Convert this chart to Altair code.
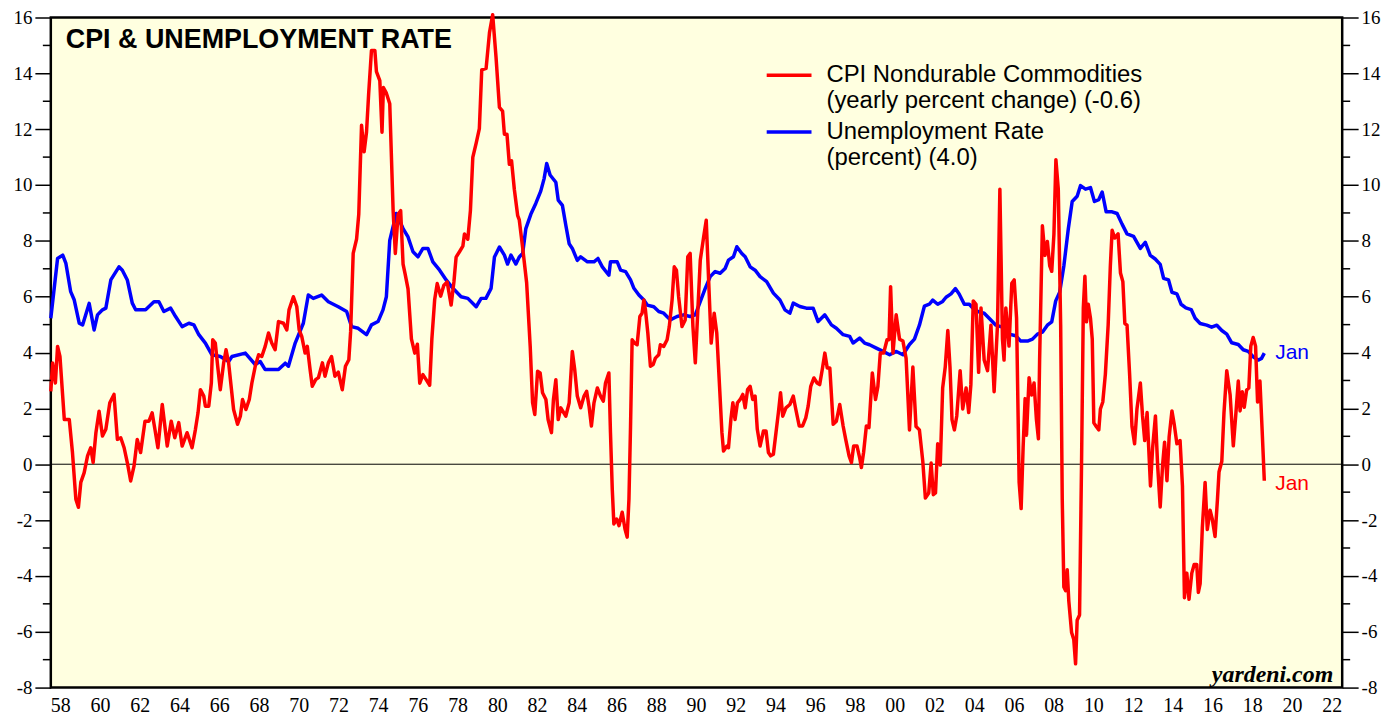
import altair as alt
import pandas as pd

# ---------------- data ----------------
cpi_years = [
    1958.0, 1958.09, 1958.23, 1958.34, 1958.46, 1958.68, 1958.93, 1959.09, 1959.26, 1959.39,
    1959.51, 1959.68, 1959.85, 1960.01, 1960.13, 1960.27, 1960.43, 1960.6, 1960.77, 1960.97,
    1961.18, 1961.35, 1961.52, 1961.69, 1961.85, 1962.02, 1962.19, 1962.35, 1962.52, 1962.74,
    1962.94, 1963.1, 1963.24, 1963.39, 1963.61, 1963.86, 1964.06, 1964.24, 1964.44, 1964.61,
    1964.86, 1965.11, 1965.28, 1965.41, 1965.53, 1965.7, 1965.78, 1965.95, 1966.08, 1966.15,
    1966.28, 1966.4, 1966.53, 1966.7, 1966.82, 1966.95, 1967.2, 1967.4, 1967.54, 1967.65,
    1967.82, 1967.99, 1968.12, 1968.29, 1968.46, 1968.62, 1968.79, 1968.96, 1969.12, 1969.29,
    1969.46, 1969.71, 1969.88, 1969.99, 1970.21, 1970.38, 1970.5, 1970.63, 1970.8, 1970.91,
    1971.05, 1971.16, 1971.33, 1971.47, 1971.67, 1971.8, 1971.97, 1972.13, 1972.3, 1972.47,
    1972.67, 1972.83, 1973.0, 1973.09, 1973.22, 1973.39, 1973.5, 1973.64, 1973.77, 1973.89,
    1974.0, 1974.14, 1974.31, 1974.39, 1974.56, 1974.67, 1974.74, 1974.89, 1975.06, 1975.23,
    1975.34, 1975.48, 1975.61, 1975.73, 1975.84, 1975.98, 1976.15, 1976.32, 1976.45, 1976.57,
    1976.73, 1976.9, 1977.07, 1977.18, 1977.32, 1977.45, 1977.62, 1977.78, 1977.95, 1978.15,
    1978.29, 1978.4, 1978.57, 1978.74, 1978.82, 1978.99, 1979.12, 1979.24, 1979.41, 1979.57,
    1979.69, 1979.91, 1980.08, 1980.24, 1980.41, 1980.58, 1980.74, 1980.83, 1980.96, 1981.08,
    1981.19, 1981.33, 1981.5, 1981.58, 1981.75, 1981.95, 1982.13, 1982.25, 1982.36, 1982.5,
    1982.63, 1982.75, 1982.92, 1983.03, 1983.2, 1983.3, 1983.42, 1983.54, 1983.67, 1983.92,
    1984.09, 1984.25, 1984.37, 1984.5, 1984.67, 1984.84, 1984.97, 1985.09, 1985.21, 1985.34,
    1985.51, 1985.67, 1985.81, 1985.92, 1986.09, 1986.17, 1986.26, 1986.34, 1986.48, 1986.6,
    1986.76, 1986.9, 1987.01, 1987.1, 1987.18, 1987.26, 1987.38, 1987.51, 1987.65, 1987.76,
    1987.85, 1987.93, 1988.05, 1988.18, 1988.32, 1988.43, 1988.6, 1988.68, 1988.85, 1989.02,
    1989.13, 1989.27, 1989.38, 1989.49, 1989.6, 1989.77, 1989.93, 1990.06, 1990.18, 1990.32,
    1990.44, 1990.56, 1990.69, 1990.86, 1990.99, 1991.11, 1991.24, 1991.39, 1991.52, 1991.66,
    1991.78, 1991.86, 1992.03, 1992.11, 1992.23, 1992.33, 1992.44, 1992.56, 1992.7, 1992.83,
    1992.95, 1993.07, 1993.2, 1993.33, 1993.45, 1993.56, 1993.7, 1993.87, 1994.0, 1994.12,
    1994.23, 1994.37, 1994.5, 1994.62, 1994.73, 1994.84, 1995.0, 1995.2, 1995.37, 1995.5,
    1995.67, 1995.84, 1996.0, 1996.12, 1996.25, 1996.41, 1996.57, 1996.7, 1996.83, 1996.96,
    1997.08, 1997.21, 1997.38, 1997.54, 1997.71, 1997.88, 1998.01, 1998.18, 1998.3, 1998.41,
    1998.58, 1998.71, 1998.8, 1998.91, 1999.05, 1999.18, 1999.35, 1999.51, 1999.63, 1999.75,
    1999.92, 2000.09, 2000.19, 2000.27, 2000.39, 2000.55, 2000.72, 2000.89, 2001.05, 2001.22,
    2001.39, 2001.55, 2001.72, 2001.89, 2002.02, 2002.19, 2002.31, 2002.42, 2002.53, 2002.64,
    2002.77, 2002.89, 2003.02, 2003.15, 2003.26, 2003.36, 2003.48, 2003.6, 2003.77, 2003.9,
    2004.07, 2004.2, 2004.31, 2004.43, 2004.57, 2004.7, 2004.82, 2004.98, 2005.15, 2005.32,
    2005.48, 2005.65, 2005.77, 2005.9, 2005.98, 2006.07, 2006.23, 2006.37, 2006.49, 2006.61,
    2006.74, 2006.84, 2006.94, 2007.04, 2007.11, 2007.24, 2007.37, 2007.49, 2007.61, 2007.71,
    2007.77, 2007.91, 2008.04, 2008.16, 2008.28, 2008.38, 2008.49, 2008.59, 2008.71, 2008.83,
    2008.91, 2008.99, 2009.08, 2009.16, 2009.24, 2009.38, 2009.49, 2009.58, 2009.66, 2009.78,
    2009.88, 2009.97, 2010.05, 2010.13, 2010.22, 2010.33, 2010.42, 2010.5, 2010.62, 2010.75,
    2010.83, 2010.95, 2011.08, 2011.22, 2011.33, 2011.42, 2011.55, 2011.72, 2011.84, 2011.96,
    2012.06, 2012.17, 2012.3, 2012.42, 2012.55, 2012.67, 2012.84, 2012.95, 2013.06, 2013.18,
    2013.26, 2013.35, 2013.46, 2013.6, 2013.71, 2013.84, 2013.96, 2014.06, 2014.18, 2014.29,
    2014.43, 2014.55, 2014.68, 2014.84, 2014.96, 2015.06, 2015.18, 2015.29, 2015.43, 2015.55,
    2015.68, 2015.76, 2015.85, 2015.96, 2016.1, 2016.21, 2016.35, 2016.46, 2016.6, 2016.72,
    2016.8, 2016.94, 2017.05, 2017.19, 2017.36, 2017.52, 2017.64, 2017.77, 2017.86, 2017.97,
    2018.07, 2018.19, 2018.3, 2018.4, 2018.52, 2018.64, 2018.74, 2018.86, 2018.97, 2019.08,
]
cpi_values = [
    2.61, 3.63, 2.91, 4.22, 3.86, 1.6, 1.6, 0.42, -1.25, -1.54,
    -0.65, -0.3, 0.3, 0.59, 0.06, 1.13, 1.9, 1.01, 1.25, 2.2,
    2.5, 0.89, 0.95, 0.59, 0.06, -0.6, -0.06, 0.89, 0.42, 1.54,
    1.54, 1.84, 1.25, 0.59, 2.14, 0.65, 1.54, 0.95, 1.49, 0.65,
    1.13, 0.59, 1.25, 1.84, 2.67, 2.44, 2.08, 2.08, 2.91, 4.46,
    4.34, 3.51, 2.67, 3.63, 4.1, 3.63, 1.96, 1.43, 1.72, 2.32,
    1.96, 2.32, 2.91, 3.51, 3.92, 3.86, 4.22, 4.7, 4.34, 4.1,
    5.11, 5.05, 4.81, 5.53, 6.0, 5.65, 4.81, 4.58, 3.98, 4.22,
    3.39, 2.79, 3.03, 3.1, 3.63, 3.15, 3.63, 3.86, 3.15, 3.3,
    2.67, 3.51, 3.74, 4.74, 7.55, 8.06, 8.95, 12.14, 11.19, 11.89,
    13.29, 14.82, 14.82, 14.06, 13.74, 11.89, 13.49, 13.29, 12.91, 9.08,
    7.55, 8.95, 9.08, 7.17, 6.79, 6.28, 4.49, 3.98, 4.3, 2.9,
    3.21, 3.02, 2.83, 4.49, 5.89, 6.47, 6.02, 6.4, 6.53, 5.7,
    6.53, 7.42, 7.61, 7.81, 8.25, 8.06, 9.08, 10.99, 11.5, 12.02,
    14.12, 14.18, 15.46, 16.1, 14.57, 12.78, 12.65, 11.82, 11.82, 10.74,
    10.87, 9.85, 8.9, 8.75, 7.75, 6.5, 4.22, 2.2, 1.78, 3.33,
    3.27, 2.56, 2.32, 1.6, 1.13, 2.32, 3.03, 1.6, 2.02, 1.72,
    2.2, 4.04, 3.39, 2.44, 2.02, 2.44, 2.61, 2.08, 1.37, 2.2,
    2.73, 2.44, 2.26, 2.91, 3.27, 1.13, -0.89, -2.14, -1.96, -2.2,
    -1.72, -2.32, -2.61, -1.25, 1.37, 4.46, 4.34, 4.28, 5.29, 5.41,
    5.88, 5.53, 4.7, 3.51, 3.57, 3.8, 3.92, 4.28, 4.22, 4.46,
    4.93, 5.88, 7.07, 6.95, 6.0, 4.93, 5.17, 7.43, 7.55, 4.93,
    3.63, 5.41, 7.31, 8.14, 8.74, 6.6, 4.34, 5.41, 4.7, 2.79,
    1.13, 0.47, 0.65, 0.59, 1.6, 2.2, 1.6, 2.2, 2.32, 2.5,
    2.02, 2.67, 2.79, 2.32, 2.44, 1.25, 0.65, 1.19, 1.19, 0.42,
    0.3, 0.36, 1.13, 1.84, 2.56, 1.72, 2.02, 2.14, 2.44, 1.96,
    1.37, 1.37, 1.66, 2.08, 2.79, 3.09, 2.91, 2.85, 3.39, 3.98,
    3.45, 3.45, 1.43, 1.54, 2.14, 1.37, 0.89, 0.3, 0.06, 0.65,
    0.65, 0.24, -0.12, 0.42, 1.37, 1.31, 3.27, 2.32, 2.79, 3.98,
    3.98, 4.46, 4.46, 6.36, 3.98, 5.35, 4.48, 4.41, 3.79, 1.23,
    3.48, 1.35, 1.23, 0.1, -1.21, -1.03, 0.04, -1.09, -1.03, 0.73,
    -0.03, 2.73, 3.48, 4.79, 3.48, 1.6, 1.23, 1.73, 3.35, 1.98,
    2.73, 1.85, 2.85, 5.85, 5.73, 3.29, 5.6, 3.73, 3.35, 4.98,
    2.6, 4.98, 9.85, 4.48, 3.73, 5.6, 4.23, 6.48, 6.6, 5.23,
    -0.65, -1.59, 0.6, 2.35, 1.04, 3.1, 2.48, 2.91, 1.6, 0.91,
    3.73, 8.54, 7.48, 7.98, 7.1, 6.91, 8.23, 10.91, 9.85, 4.98,
    -1.28, -4.4, -4.53, -3.78, -4.9, -6.03, -6.28, -7.15, -5.59, -5.4,
    -0.03, 5.6, 6.73, 5.1, 5.73, 5.23, 4.48, 1.48, 1.35, 1.23,
    1.98, 2.23, 3.23, 4.98, 7.1, 8.38, 8.1, 8.25, 6.85, 6.54,
    5.04, 4.98, 3.23, 1.35, 0.73, 1.98, 2.91, 1.73, 0.85, 1.85,
    0.6, -0.78, 0.6, 1.73, -0.03, -1.53, -0.03, 0.79, -0.59, 0.98,
    1.91, 1.41, 0.73, 0.85, -0.78, -4.78, -3.9, -4.84, -3.9, -3.59,
    -3.59, -4.59, -4.28, -2.28, -0.65, -2.34, -1.65, -1.96, -2.59, -1.28,
    -0.28, 0.1, 1.85, 3.35, 2.48, 0.66, 1.73, 2.98, 1.91, 2.6,
    2.04, 2.66, 2.73, 4.23, 4.54, 4.23, 2.23, 2.98, 1.23, -0.59,
]

unemp_years = [
    1958.0, 1958.34, 1958.6, 1958.76, 1959.0, 1959.18, 1959.43, 1959.6, 1959.93, 1960.18,
    1960.35, 1960.6, 1960.77, 1961.02, 1961.43, 1961.6, 1961.85, 1962.1, 1962.27, 1962.77,
    1963.19, 1963.44, 1963.69, 1964.03, 1964.28, 1964.61, 1964.95, 1965.2, 1965.45, 1965.78,
    1966.11, 1966.53, 1966.95, 1967.12, 1967.79, 1968.29, 1968.54, 1968.79, 1969.46, 1969.8,
    1969.96, 1970.3, 1970.71, 1970.96, 1971.21, 1971.63, 1971.97, 1972.47, 1972.89, 1973.14,
    1973.47, 1973.89, 1974.14, 1974.47, 1974.72, 1974.89, 1975.06, 1975.39, 1975.73, 1975.98,
    1976.23, 1976.48, 1976.73, 1976.98, 1977.23, 1977.57, 1977.9, 1978.24, 1978.65, 1978.99,
    1979.41, 1979.66, 1979.9, 1980.16, 1980.33, 1980.58, 1980.83, 1980.99, 1981.16, 1981.41,
    1981.58, 1981.75, 1981.91, 1982.16, 1982.41, 1982.66, 1982.83, 1982.96, 1983.13, 1983.42,
    1983.54, 1983.75, 1983.92, 1984.09, 1984.25, 1984.5, 1984.67, 1985.01, 1985.34, 1985.54,
    1985.76, 1986.09, 1986.17, 1986.51, 1986.68, 1986.93, 1987.18, 1987.35, 1987.6, 1987.85,
    1988.02, 1988.35, 1988.6, 1988.85, 1989.18, 1989.52, 1989.85, 1990.18, 1990.44, 1990.66,
    1990.94, 1991.19, 1991.44, 1991.69, 1991.94, 1992.11, 1992.36, 1992.53, 1992.78, 1992.95,
    1993.2, 1993.45, 1993.7, 1994.03, 1994.37, 1994.7, 1994.95, 1995.2, 1995.37, 1995.7,
    1996.03, 1996.37, 1996.62, 1996.96, 1997.29, 1997.54, 1997.88, 1998.21, 1998.38, 1998.71,
    1998.96, 1999.21, 1999.55, 1999.89, 2000.22, 2000.56, 2000.89, 2001.22, 2001.47, 2001.72,
    2001.97, 2002.22, 2002.39, 2002.64, 2002.89, 2003.06, 2003.31, 2003.53, 2003.72, 2003.98,
    2004.23, 2004.48, 2004.73, 2004.98, 2005.23, 2005.57, 2005.9, 2006.23, 2006.57, 2006.82,
    2007.16, 2007.41, 2007.66, 2007.91, 2008.16, 2008.38, 2008.58, 2008.78, 2008.99, 2009.21,
    2009.41, 2009.66, 2009.83, 2010.08, 2010.33, 2010.53, 2010.75, 2010.92, 2011.12, 2011.42,
    2011.67, 2011.92, 2012.17, 2012.5, 2012.84, 2013.09, 2013.34, 2013.59, 2013.84, 2014.01,
    2014.26, 2014.43, 2014.68, 2014.89, 2015.13, 2015.4, 2015.6, 2015.85, 2016.18, 2016.43,
    2016.69, 2016.94, 2017.19, 2017.44, 2017.77, 2018.02, 2018.27, 2018.52, 2018.77, 2018.94,
    2019.08,
]
unemp_values = [
    5.23, 7.37, 7.49, 7.19, 6.18, 5.88, 5.05, 4.99, 5.76, 4.81,
    5.35, 5.53, 5.59, 6.6, 7.07, 6.95, 6.6, 5.77, 5.53, 5.53,
    5.82, 5.82, 5.47, 5.59, 5.29, 4.93, 5.05, 4.99, 4.64, 4.34,
    3.92, 3.86, 3.68, 3.86, 3.98, 3.57, 3.68, 3.39, 3.39, 3.62,
    3.51, 4.34, 5.05, 6.06, 5.94, 6.06, 5.82, 5.64, 5.47, 4.93,
    4.87, 4.64, 4.99, 5.11, 5.53, 6.0, 8.02, 8.98, 8.44, 8.14,
    7.61, 7.43, 7.73, 7.73, 7.25, 6.95, 6.6, 6.3, 6.0, 5.94,
    5.64, 5.94, 5.94, 6.3, 7.42, 7.78, 7.49, 7.17, 7.49, 7.17,
    7.42, 7.55, 8.44, 8.95, 9.34, 9.78, 10.23, 10.77, 10.36, 10.1,
    9.46, 9.27, 8.57, 7.9, 7.73, 7.3, 7.43, 7.25, 7.25, 7.37,
    7.07, 6.77, 7.25, 7.25, 6.95, 6.9, 6.6, 6.3, 6.06, 5.88,
    5.7, 5.64, 5.47, 5.41, 5.17, 5.29, 5.35, 5.29, 5.35, 5.77,
    6.3, 6.72, 6.9, 6.84, 7.01, 7.31, 7.43, 7.79, 7.55, 7.43,
    7.07, 6.95, 6.72, 6.54, 6.13, 5.88, 5.53, 5.41, 5.77, 5.65,
    5.59, 5.59, 5.11, 5.35, 4.99, 4.87, 4.64, 4.58, 4.34, 4.52,
    4.34, 4.28, 4.16, 4.04, 3.92, 4.04, 3.92, 4.29, 4.48, 4.98,
    5.66, 5.73, 5.88, 5.73, 5.83, 5.98, 6.1, 6.29, 6.1, 5.73,
    5.73, 5.54, 5.45, 5.41, 5.23, 4.98, 4.91, 4.66, 4.6, 4.41,
    4.41, 4.48, 4.66, 4.73, 4.98, 5.1, 5.85, 6.16, 7.1, 8.41,
    9.41, 9.6, 9.98, 9.85, 9.91, 9.41, 9.48, 9.75, 9.04, 9.04,
    8.98, 8.6, 8.25, 8.16, 7.73, 7.95, 7.48, 7.35, 7.16, 6.66,
    6.6, 6.16, 6.1, 5.73, 5.6, 5.54, 5.23, 5.04, 4.98, 4.91,
    4.98, 4.79, 4.66, 4.35, 4.29, 4.1, 4.04, 3.85, 3.73, 3.79,
    3.98,
]

year_ticks = list(range(1958, 2024))
xlabel_years = list(range(1958, 2023, 2))
xlabel_text = [str(y)[2:] for y in xlabel_years]
major_y = list(range(-8, 17, 2))
minor_y = list(range(-7, 16, 2))

series_names = ["CPI Nondurable Commodities", "Unemployment Rate"]
legend_lines = [
    "CPI Nondurable Commodities",
    "(yearly percent change) (-0.6)",
    "Unemployment Rate",
    "(percent) (4.0)",
]
title_text = "CPI & UNEMPLOYMENT RATE"
source_text = "yardeni.com"
end_label = "Jan"

# ---------------- layout ----------------
W, H = 1297, 673
RED, BLUE = "#FF0000", "#0000FF"
SERIF = "Liberation Serif"
SANS = "Liberation Sans"

cpi_df = pd.DataFrame({"year": cpi_years, "value": cpi_values})
un_df = pd.DataFrame({"year": unemp_years, "value": unemp_values})

xs = alt.Scale(domain=[1958, 2023], nice=False, zero=False)
ys = alt.Scale(domain=[-8, 16], nice=False, zero=False)

axis_common = dict(values=major_y, tickSize=16, tickWidth=1.5, tickColor="black",
                   labelFont=SERIF, labelFontSize=19, labelColor="black",
                   labelPadding=3, domain=False, grid=False, title=None,
                   labelExpr="toString(datum.value)")
left_axis = alt.Axis(orient="left", **axis_common)
right_axis = alt.Axis(orient="right", **axis_common)
x_axis = alt.Axis(values=year_ticks, tickSize=7, tickWidth=1.5, tickColor="black",
                  labels=False, domain=False, grid=False, title=None)

one = pd.DataFrame({"a": [0]})

zero_line = alt.Chart(pd.DataFrame({"v": [0]})).mark_rule(color="black", strokeWidth=1).encode(
    y=alt.Y("v:Q", scale=ys, axis=left_axis)
)

blue_line = alt.Chart(un_df).mark_line(color=BLUE, strokeWidth=3.5, strokeJoin="round").encode(
    x=alt.X("year:Q", scale=xs, axis=x_axis),
    y=alt.Y("value:Q", scale=ys, axis=right_axis),
)

red_line = alt.Chart(cpi_df).mark_line(color=RED, strokeWidth=3.5, strokeJoin="round").encode(
    x=alt.X("year:Q", scale=xs, axis=None),
    y=alt.Y("value:Q", scale=ys, axis=None),
)

blue_end = alt.Chart(un_df.tail(1)).mark_text(
    text=end_label, color=BLUE, font=SANS, fontSize=21, align="left", baseline="middle", dx=11
).encode(x=alt.X("year:Q", scale=xs, axis=None), y=alt.Y("value:Q", scale=ys, axis=None))

red_end = alt.Chart(cpi_df.tail(1)).mark_text(
    text=end_label, color=RED, font=SANS, fontSize=21, align="left", baseline="middle", dx=11, dy=3
).encode(x=alt.X("year:Q", scale=xs, axis=None), y=alt.Y("value:Q", scale=ys, axis=None))

minor_left = alt.Chart(pd.DataFrame({"v": minor_y})).mark_rule(color="black", strokeWidth=1.5).encode(
    y=alt.Y("v:Q", scale=ys, axis=None), x=alt.value(-8), x2=alt.value(0)
)
minor_right = alt.Chart(pd.DataFrame({"v": minor_y})).mark_rule(color="black", strokeWidth=1.5).encode(
    y=alt.Y("v:Q", scale=ys, axis=None), x=alt.value(W), x2=alt.value(W + 8)
)

xlabels = alt.Chart(pd.DataFrame({"yr": [y + 0.5 for y in xlabel_years], "t": xlabel_text})).mark_text(
    font=SERIF, fontSize=20, color="black", baseline="alphabetic", align="center"
).encode(x=alt.X("yr:Q", scale=xs, axis=None), y=alt.value(H + 25), text="t:N")

title = alt.Chart(one).mark_text(
    text=title_text, font=SANS, fontSize=27, fontWeight="bold", color="black",
    align="left", baseline="alphabetic"
).encode(x=alt.value(15), y=alt.value(31))

leg_rules = alt.Chart(pd.DataFrame({"s": series_names, "yy": [58, 115]})).mark_rule(strokeWidth=3.5).encode(
    x=alt.value(719), x2=alt.value(764), y=alt.Y("yy:Q", scale=None, axis=None),
    color=alt.Color("s:N", scale=alt.Scale(domain=series_names, range=[RED, BLUE]), legend=None),
)

leg_text = alt.Chart(pd.DataFrame({"t": legend_lines, "yy": [58, 84, 115, 141]})).mark_text(
    font=SANS, fontSize=24, color="black", align="left", baseline="middle"
).encode(x=alt.value(779), y=alt.Y("yy:Q", scale=None, axis=None), text="t:N")

source = alt.Chart(one).mark_text(
    text=source_text, font=SERIF, fontSize=24, fontWeight="bold", fontStyle="italic",
    color="black", align="right", baseline="alphabetic"
).encode(x=alt.value(W - 9), y=alt.value(H - 6))

chart = alt.layer(
    zero_line, blue_line, red_line, blue_end, red_end, minor_left, minor_right,
    xlabels, title, leg_rules, leg_text, source,
).resolve_axis(y="independent").properties(
    width=W, height=H,
    autosize=alt.AutoSizeParams(type="none"),
    padding={"left": 43, "top": 8, "right": 44, "bottom": 30},
    background="white",
).configure_view(
    fill="#FFFFE0", stroke="black", strokeWidth=2.5
)

chart.save("out.html", embed_options={"renderer": "svg", "actions": False})
